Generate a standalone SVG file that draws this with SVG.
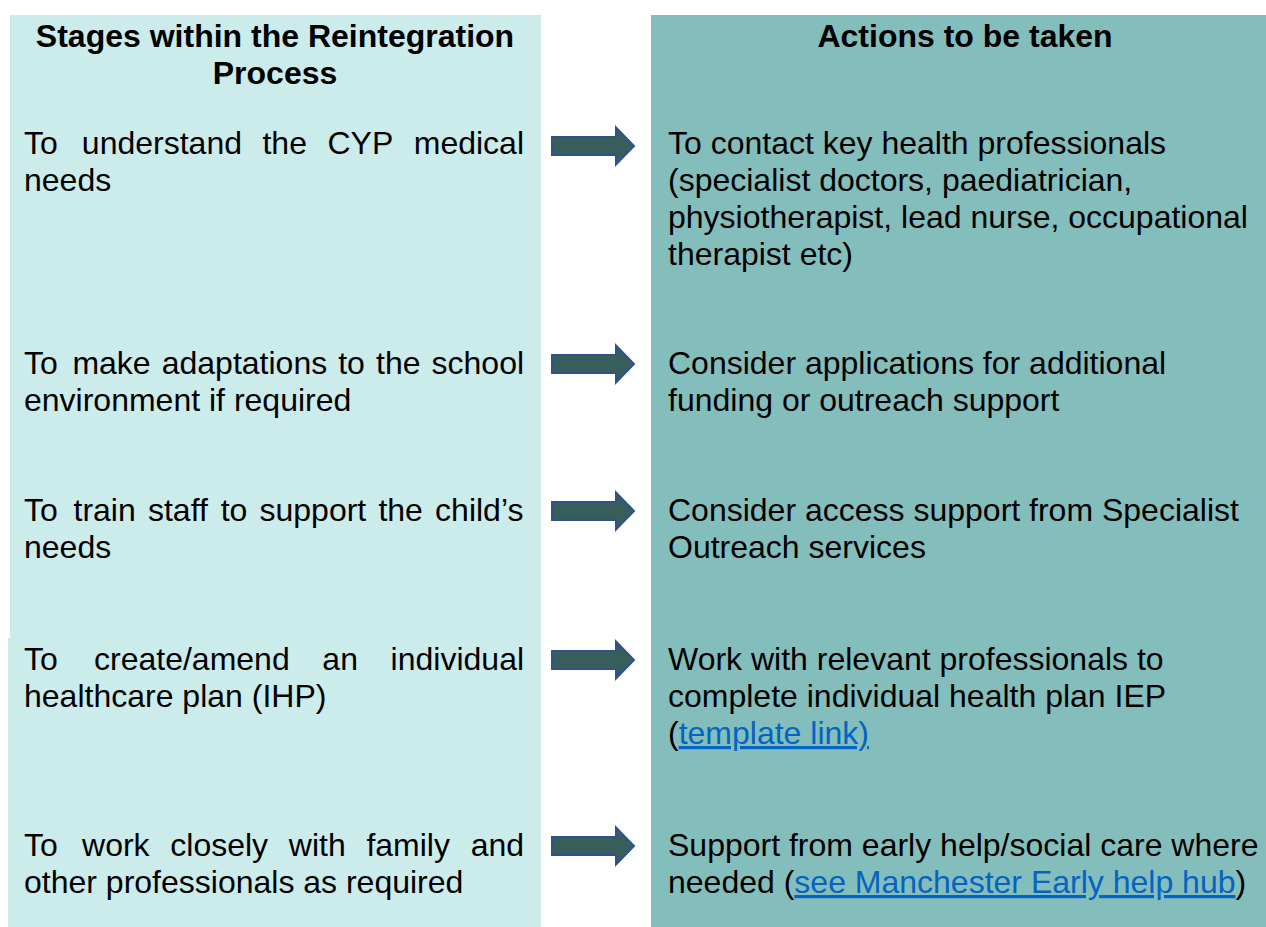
<svg xmlns="http://www.w3.org/2000/svg" width="1266" height="927" viewBox="0 0 1266 927">
<defs>
<style>
text{font-family:"Liberation Sans",Arial,sans-serif;font-size:32px;fill:#000}
.h{font-weight:bold;text-anchor:middle}
.lk{fill:#0563C1;text-decoration:underline}
.arrow{fill:#385E5C;stroke:#2F528F;stroke-width:2}
</style>
<path id="arr" d="M0,-9 H64 V-18.5 L82,0 L64,18.5 V9 H0 Z"/>
</defs>
<rect width="1266" height="927" fill="#fff"/>
<g id="stages-panel">
<rect x="10" y="15" width="531" height="624" fill="#CCECEC"/>
<rect x="8" y="638" width="533" height="289" fill="#CCECEC"/>
<text class="h" x="275" y="47">Stages within the Reintegration</text>
<text class="h" x="275" y="84">Process</text>
</g>
<g id="actions-panel">
<rect x="651" y="15" width="615" height="912" fill="#84BEBC"/>
<text class="h" x="965" y="47">Actions to be taken</text>
</g>
<g id="stage1">
<text y="154"><tspan x="24">To</tspan><tspan x="81.85">understand</tspan><tspan x="262.46">the</tspan><tspan x="327.45">CYP</tspan><tspan x="413.75">medical</tspan></text>
<text x="24" y="191">needs</text>
</g>
<g id="stage2">
<text y="374"><tspan x="24">To</tspan><tspan x="72.41">make</tspan><tspan x="161.72">adaptations</tspan><tspan x="338.23">to</tspan><tspan x="375.99">the</tspan><tspan x="431.54">school</tspan></text>
<text x="24" y="411">environment if required</text>
</g>
<g id="stage3">
<text y="521"><tspan x="24">To</tspan><tspan x="73.53">train</tspan><tspan x="147.96">staff</tspan><tspan x="220.63">to</tspan><tspan x="259.51">support</tspan><tspan x="378.42">the</tspan><tspan x="435.09">child’s</tspan></text>
<text x="24" y="558">needs</text>
</g>
<g id="stage4">
<text y="670"><tspan x="24">To</tspan><tspan x="94.02">create/amend</tspan><tspan x="322.35">an</tspan><tspan x="390.61">individual</tspan></text>
<text x="24" y="707">healthcare plan (IHP)</text>
</g>
<g id="stage5">
<text y="856"><tspan x="24">To</tspan><tspan x="82.04">work</tspan><tspan x="170.29">closely</tspan><tspan x="288.78">with</tspan><tspan x="366.38">family</tspan><tspan x="470.63">and</tspan></text>
<text x="24" y="893">other professionals as required</text>
</g>
<g id="action1">
<text x="668" y="154">To contact key health professionals</text>
<text x="668" y="191">(specialist doctors, paediatrician,</text>
<text x="668" y="228">physiotherapist, lead nurse, occupational</text>
<text x="668" y="265">therapist etc)</text>
</g>
<g id="action2">
<text x="668" y="374">Consider applications for additional</text>
<text x="668" y="411">funding or outreach support</text>
</g>
<g id="action3">
<text x="668" y="521">Consider access support from Specialist</text>
<text x="668" y="558">Outreach services</text>
</g>
<g id="action4">
<text x="668" y="670">Work with relevant professionals to</text>
<text x="668" y="707">complete individual health plan IEP</text>
<text x="668" y="744">(<tspan class="lk">template link)</tspan></text>
</g>
<g id="action5">
<text x="668" y="856">Support from early help/social care where</text>
<text x="668" y="893">needed (<tspan class="lk">see Manchester Early help hub</tspan>)</text>
</g>
<g id="connectors">
<use href="#arr" class="arrow" x="552" y="146"/>
<use href="#arr" class="arrow" x="552" y="364"/>
<use href="#arr" class="arrow" x="552" y="511"/>
<use href="#arr" class="arrow" x="552" y="660"/>
<use href="#arr" class="arrow" x="552" y="846"/>
</g>
</svg>
